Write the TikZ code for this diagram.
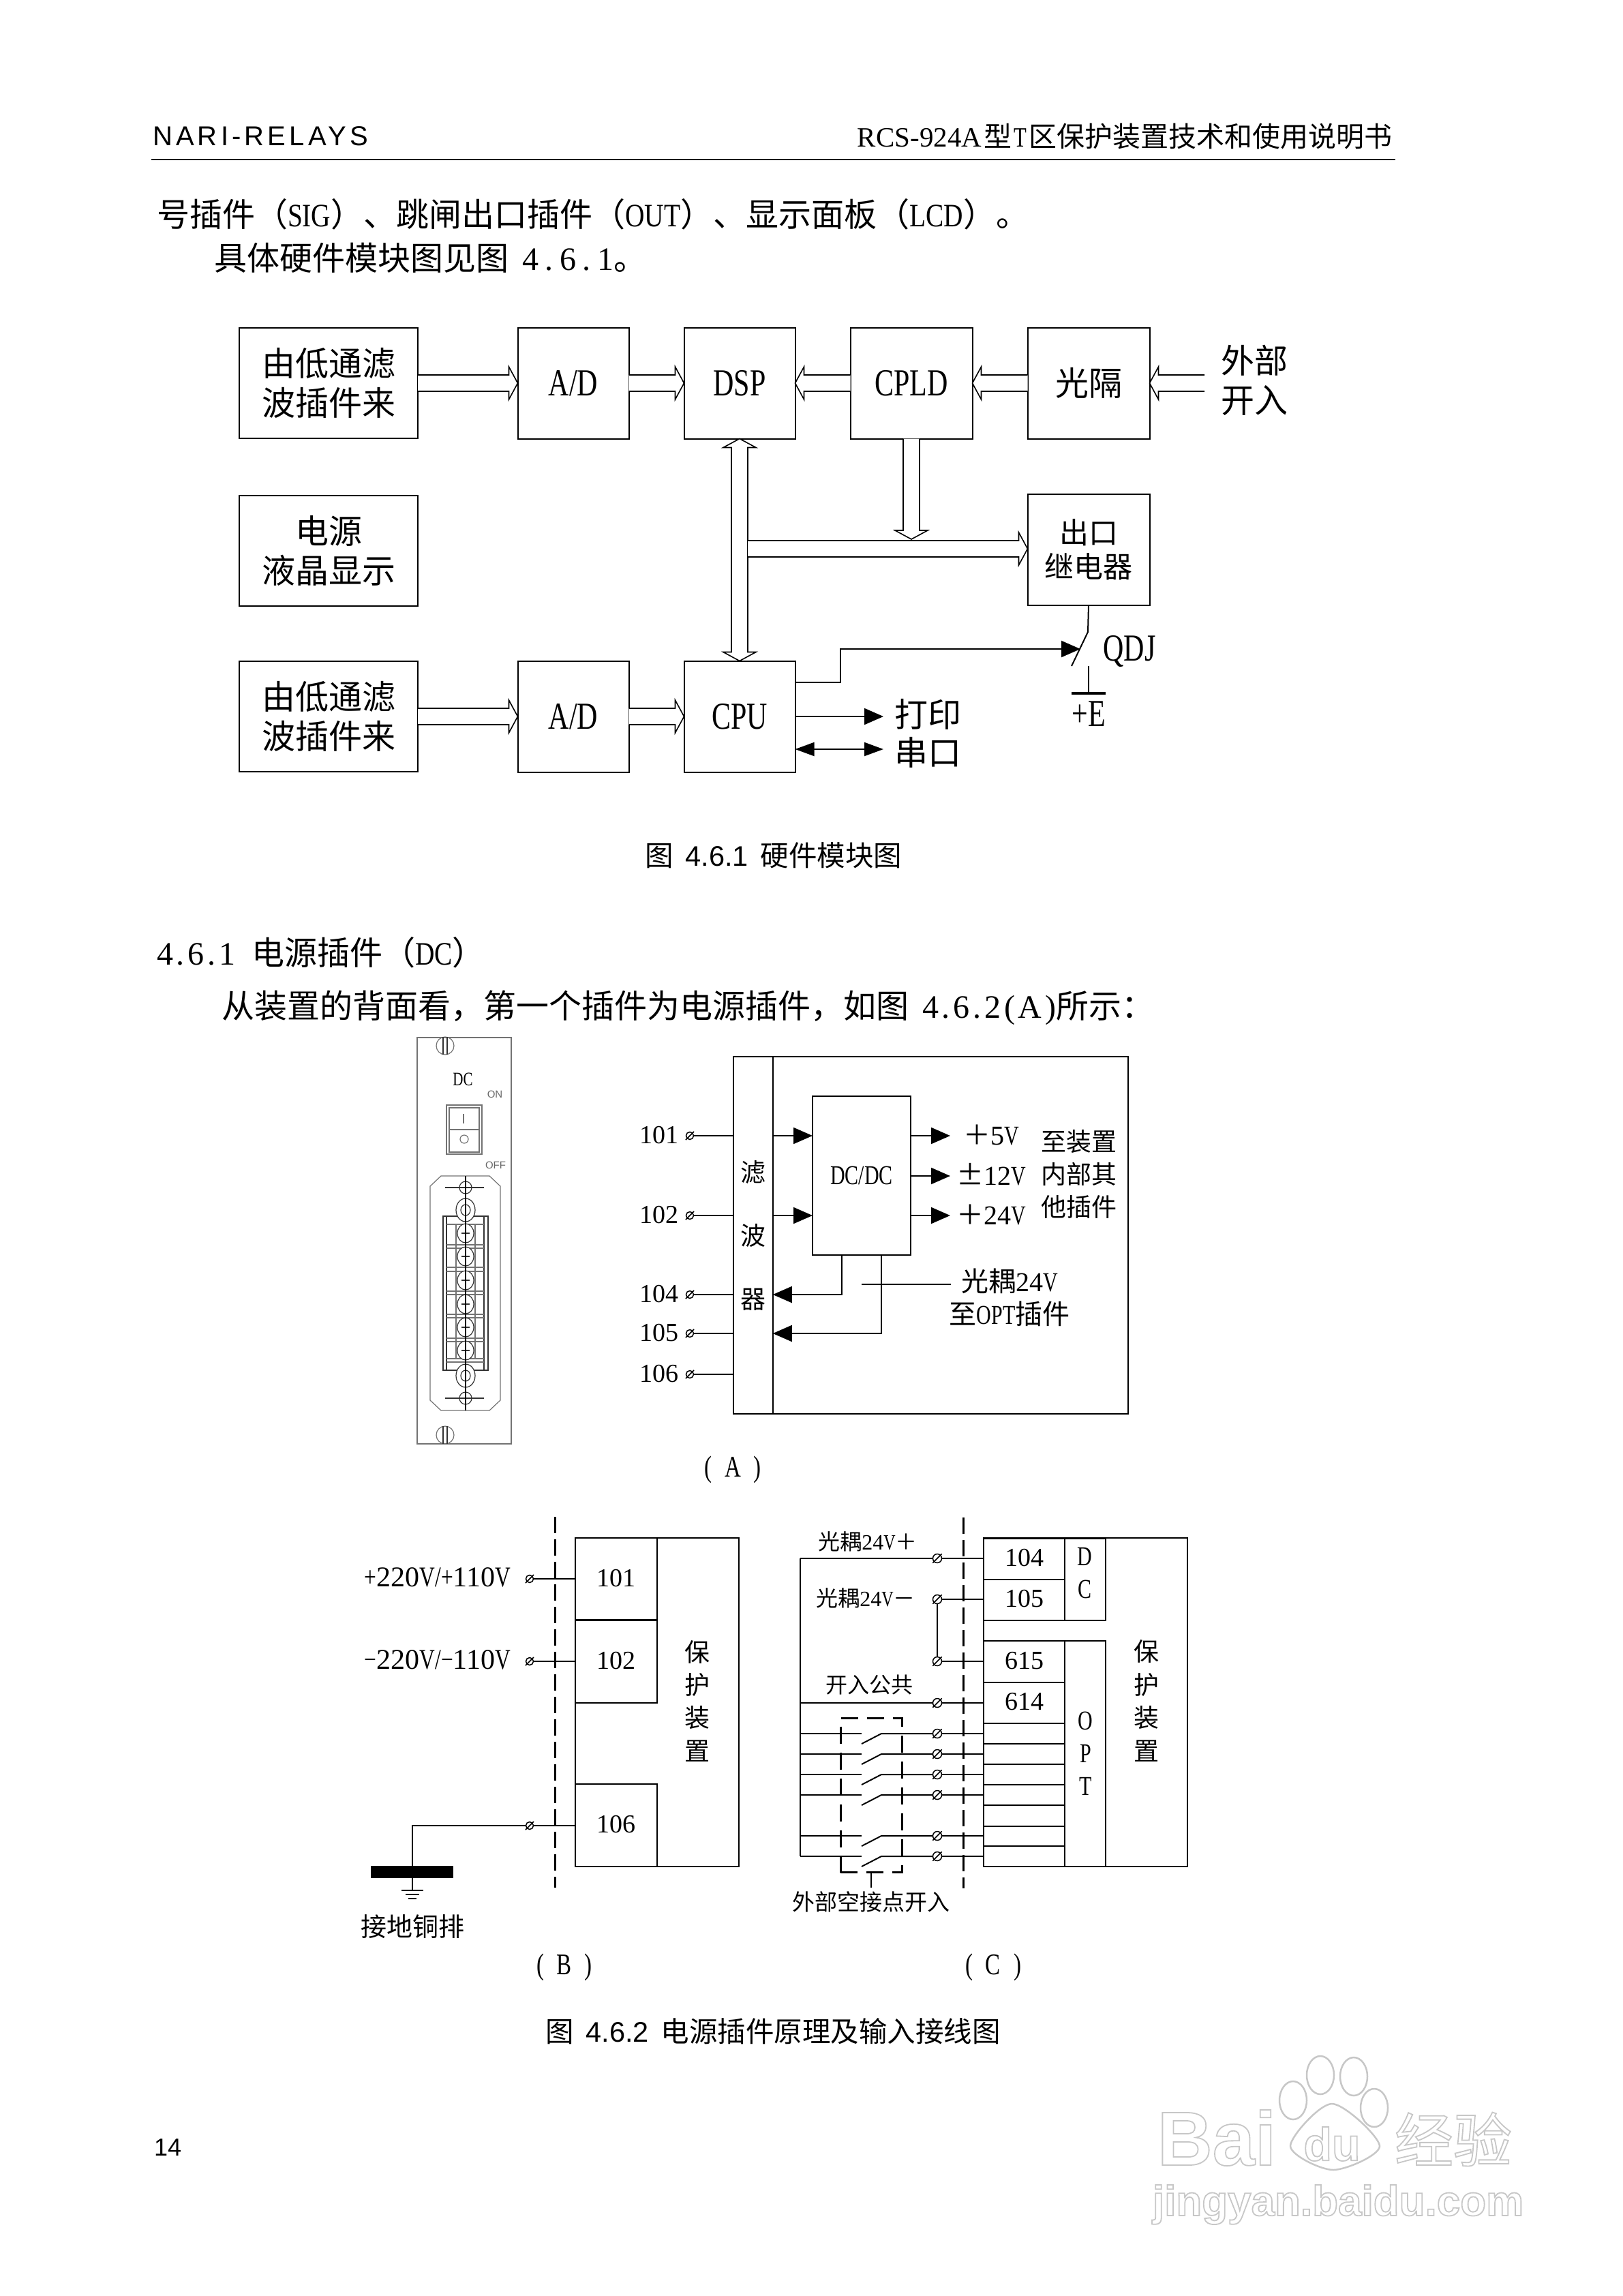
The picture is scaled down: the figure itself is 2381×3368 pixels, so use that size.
\documentclass[tikz,border=0pt]{standalone}
\usepackage{fontspec}
\usetikzlibrary{arrows.meta,calc}
\setmainfont[FakeStretch=0.75]{Liberation Serif}
\setsansfont{Liberation Sans}
\newfontfamily\cjk{Noto Sans CJK SC}
\newfontfamily\headsf[LetterSpace=13]{Liberation Sans}
\newfontfamily\dg{Liberation Serif}
\newfontfamily\bl[FakeStretch=0.82]{Liberation Serif}
\newfontfamily\nma[LetterSpace=20]{Liberation Serif}
\newfontfamily\nmb[LetterSpace=10]{Liberation Serif}
\newcommand{\cj}[1]{{\cjk #1}}
\newcommand{\dn}[1]{{\dg #1}}
\newcommand{\olt}[1]{\special{pdf:code q 0.78 G 1.8 w 1 Tr}#1\special{pdf:code Q}}
\newcommand{\holar}[2]{
  \coordinate (hb) at ($(#2)!13pt!(#1)$);
  \draw[hol] ($(#1)!12pt!90:(#2)$) -- ($(hb)!12pt!-90:(#1)$) -- ($(hb)!24pt!-90:(#1)$) -- (#2) -- ($(hb)!24pt!90:(#1)$) -- ($(hb)!12pt!90:(#1)$) -- ($(#1)!12pt!-90:(#2)$);}
\newcommand{\holbi}[2]{
  \coordinate (hb) at ($(#2)!13pt!(#1)$);
  \coordinate (ha) at ($(#1)!13pt!(#2)$);
  \draw[hol] (#1) -- ($(ha)!24pt!-90:(#2)$) -- ($(ha)!12pt!-90:(#2)$) -- ($(hb)!12pt!90:(#1)$) -- ($(hb)!24pt!90:(#1)$) -- (#2) -- ($(hb)!24pt!-90:(#1)$) -- ($(hb)!12pt!-90:(#1)$) -- ($(ha)!12pt!90:(#2)$) -- ($(ha)!24pt!90:(#2)$) -- cycle;}
\begin{document}
\begin{tikzpicture}[x=1pt,y=-1pt,
  every node/.style={inner sep=0pt,outer sep=0pt},
  every path/.style={line width=2pt},
  ln/.style={font=\fontsize{56}{58}\selectfont,align=center},
  cbig/.style={font=\cjk\fontsize{49}{58}\selectfont,align=center},
  cmid/.style={font=\cjk\fontsize{37}{48}\selectfont,align=center},
  csml/.style={font=\fontsize{32}{40}\selectfont,align=center},
  lmid/.style={font=\fontsize{40}{48}\selectfont,align=center},
  dnum/.style={font=\dg\fontsize{38}{48}\selectfont,text height=26pt,text depth=4pt},
  body/.style={font=\bl\fontsize{48}{56}\selectfont,anchor=west},
  capt/.style={font=\sffamily\fontsize{41.5}{48}\selectfont,anchor=west},
  box/.style={draw,minimum width=#1},
  wbox/.style={box=262pt,minimum height=162pt},
  nbox/.style={box=163pt,minimum height=163pt},
  lbox/.style={box=179pt,minimum height=163pt},
  term/.style={circle,draw,minimum size=13pt,line width=1.5pt},
  hol/.style={draw,line width=1.6pt,fill=white,line join=miter},
  ar/.style={-{Triangle[length=28pt,width=24pt]},line width=2pt},
  bi/.style={{Triangle[length=28pt,width=20pt]}-{Triangle[length=28pt,width=20pt]},line width=2pt},
  cut/.style={line width=3pt,dash pattern=on 24pt off 9pt},
  dsh/.style={draw,line width=3pt,dash pattern=on 25pt off 13pt},
  pan/.style={draw=black!55,line width=1.2pt},
  panb/.style={draw=black!80,line width=1.2pt},
  wm/.style={font=\sffamily\bfseries\fontsize{#1}{#1}\selectfont},
  toe/.style={draw=black!22,line width=2.5pt}]
\useasboundingbox (0,0) rectangle (2381,3368);

\node[anchor=west,font=\headsf\fontsize{40}{48}\selectfont] (hdl) at (224,200) {NARI-RELAYS};
\node[anchor=east,font=\fontsize{41}{48}\selectfont] (hdr) at (2042,200) {\dn{RCS-924A}\kern3pt\cj{型}\kern3pt T\kern3pt\cj{区保护装置技术和使用说明书}};
\draw (222,234) -- (2047,234);
\node[body] (p1) at (230,314) {\cj{号插件（}SIG\cj{）、跳闸出口插件（}OUT\cj{）、显示面板（}LCD\cj{）。}};
\node[body] (p2) at (314,378) {\cj{具体硬件模块图见图}\kern20pt{\nma 4.6.1}\cj{。}};
\node[capt] (cap1) at (946,1255) {\cj{图}\kern18pt 4.6.1\kern18pt\cj{硬件模块图}};
\node[body] (sec) at (230,1397) {{\nmb 4.6.1}\kern24pt\cj{电源插件（}DC\cj{）}};
\node[body] (p3) at (325,1478) {\cj{从装置的背面看，第一个插件为电源插件，如图}\kern20pt{\nmb 4.6.2(A)}\cj{所示：}};
\node[capt] (cap2) at (800,2980) {\cj{图}\kern18pt 4.6.2\kern18pt\cj{电源插件原理及输入接线图}};
\node[anchor=west,font=\sffamily\fontsize{36}{40}\selectfont] (pg) at (226,3150) {14};

\node[wbox,cbig] (b1) at (482,562) {由低通滤\\波插件来};
\node[nbox,ln] (ad1) at (841,562) {A/D};
\node[nbox,ln] (dsp) at (1085,562) {DSP};
\node[lbox,ln] (cpld) at (1337,562) {CPLD};
\node[lbox,cbig] (gg) at (1597,562) {光隔};
\node[cbig] (wb) at (1840,558) {外部\\开入};
\coordinate (wbt) at (1767,562);
\node[wbox,cbig] (b2) at (482,808) {电源\\液晶显示};
\node[box=179pt,minimum height=163pt,align=center,font=\cjk\fontsize{43}{50}\selectfont] (rly) at (1597,806) {出口\\继电器};
\node[wbox,cbig] (b3) at (482,1051) {由低通滤\\波插件来};
\node[nbox,ln] (ad2) at (841,1051) {A/D};
\node[nbox,ln] (cpu) at (1085,1051) {CPU};
\holar{b1.east}{ad1.west}
\holar{ad1.east}{dsp.west}
\holar{cpld.west}{dsp.east}
\holar{gg.west}{cpld.east}
\holar{wbt}{gg.east}
\holar{b3.east}{ad2.west}
\holar{ad2.east}{cpu.west}
\holbi{dsp.south}{cpu.north}
\coordinate (bus) at (1097,805);
\holar{bus}{rly.west |- bus}
\coordinate (cpd) at (1337,791);
\holar{cpld.south}{cpd}
\coordinate (cq) at (1166,1001);
\coordinate (sw) at (1585,952);
\coordinate (swt) at (1596,927);
\coordinate (swb) at (1572,977);
\coordinate (swe) at (1597,977);
\coordinate (ebar) at (1597,1017);
\draw[ar] (cq) -- (1233,1001) |- (sw);
\draw (rly.south) -- (swt) -- (swb);
\draw (swe) -- (ebar);
\draw[line width=4pt] (1572,1017) -- (1622,1017);
\node[font=\fontsize{56}{58}\selectfont] (qdj) at (1657,955) {QDJ};
\node[font=\fontsize{56}{58}\selectfont] (pe) at (1597,1047) {+E};
\node[cbig] (dy) at (1361,1048) {打印};
\node[cbig] (ck) at (1361,1104) {串口};
\coordinate (dyt) at (1296,1051);
\coordinate (ckt) at (1296,1099);
\draw[ar] (cpu.east |- dyt) -- (dyt);
\draw[bi] (cpu.east |- ckt) -- (ckt);

\draw[pan] (612,1522) rectangle (750,2118);
\foreach \y in {1534,2105} {
  \draw[pan] (653,\y) ellipse (13 and 13);
  \draw[panb] (650,\y-13) -- (650,\y+13) (656,\y-13) -- (656,\y+13);
}
\node[font=\fontsize{28}{30}\selectfont] (dct) at (679,1583) {DC};
\node[font=\sffamily\fontsize{15}{16}\selectfont,text=black!60] (on) at (726,1605) {ON};
\node[font=\sffamily\fontsize{15}{16}\selectfont,text=black!60] (off) at (727,1709) {OFF};
\draw[pan] (655,1621) rectangle (707,1693);
\draw[pan] (659,1625) rectangle (703,1690);
\draw[pan] (659,1657) -- (703,1657) (680,1634) -- (680,1648);
\draw[pan] (681,1671) circle (6);
\draw[pan] (647,1725) -- (718,1725) -- (734,1740) -- (734,2054) -- (718,2069) -- (647,2069) -- (631,2054) -- (631,1740) -- cycle;
\draw[panb] (650,1784) rectangle (716,2010);
\draw[panb] (655,1784) -- (655,2010) (710,1784) -- (710,2010);
\draw[pan] (669,1796) -- (669,1993) (697,1796) -- (697,1993);
\foreach \y in {1796,1826,1831,1859,1865,1894,1899,1928,1933,1963,1968,1993,1998} \draw[pan] (655,\y) -- (710,\y);
\foreach \y in {1809,1843,1878,1913,1947,1981} {
  \draw[panb,fill=white] (683,\y) ellipse (12 and 14);
  \draw[panb] (677,\y) -- (689,\y);
}
\foreach \y in {1742,2051} {
  \draw[panb] (683,\y) ellipse (9 and 9);
  \draw[panb] (653,\y) -- (710,\y);
}
\foreach \y in {1775,2018} {
  \draw[panb,fill=white] (683,\y) ellipse (14 and 17);
  \draw[panb] (683,\y) ellipse (7 and 8);
}
\draw[black,line width=1.2pt] (683,1725) -- (683,2069);

\node[box=579pt,minimum height=524pt] (outa) at (1365.5,1812) {};
\node[box=57.5pt,minimum height=524pt,align=center,font=\cjk\fontsize{37}{93}\selectfont] (flt) at (1105,1812) {滤\\波\\器};
\node[box=144pt,minimum height=233pt,lmid] (dcdc) at (1264,1724) {DC/DC};
\foreach \n/\y in {101/1666,102/1783,104/1899,105/1956,106/2016} {
  \node[dnum] (la\n) at (967,\y) {\n};
  \node[term,minimum size=11pt] (ta\n) at (1012,\y) {};
  \draw (ta\n) -- (ta\n -| flt.west);
  \draw[line width=1.5pt,shorten <=-3pt,shorten >=-3pt] (ta\n.south west) -- (ta\n.north east);
}
\draw[ar] (flt.east |- ta101) -- (dcdc.west |- ta101);
\draw[ar] (flt.east |- ta102) -- (dcdc.west |- ta102);
\coordinate (o5) at (1394,1666);
\coordinate (o12) at (1394,1725);
\coordinate (o24) at (1394,1783);
\foreach \c in {o5,o12,o24} \draw[ar] (dcdc.east |- \c) -- (\c);
\node[lmid] (t5) at (1454,1665) {\cj{＋}\dn{5}V};
\node[lmid] (t12) at (1454,1723) {\cj{±}\dn{12}V};
\node[lmid] (t24) at (1454,1782) {\cj{＋}\dn{24}V};
\node[cmid] (tz) at (1583,1722) {至装置\\内部其\\他插件};
\coordinate (d1) at (1235,1899);
\coordinate (d2) at (1293,1956);
\draw[ar] (d1 |- dcdc.south) -- (d1) -- (flt.east |- d1);
\draw[ar] (d2 |- dcdc.south) -- (d2) -- (flt.east |- d2);
\coordinate (gl) at (1264,1884);
\coordinate (gr) at (1395,1884);
\draw (gl) -- (gr);
\node[lmid] (gt) at (1481,1903) {\cj{光耦}\dn{24}V\\\cj{至}OPT\cj{插件}};
\node[font=\fontsize{44}{48}\selectfont] (capa) at (1075,2156) {(\kern19pt A\kern19pt)};

\node[box=240pt,minimum height=482pt] (outb) at (964,2497) {};
\node[box=120pt,minimum height=120pt,dnum] (b101) at (904,2316) {101};
\node[box=120pt,minimum height=121pt,dnum] (b102) at (904,2437) {102};
\node[box=120pt,minimum height=121pt,dnum] (b106) at (904,2677.5) {106};
\node[cmid,font=\cjk\fontsize{37}{48.3}\selectfont] (bh1) at (1023,2495) {保\\护\\装\\置};
\draw[cut] (814,2225) -- (814,2769);
\node[lmid,font=\fontsize{42}{48}\selectfont] (lb1) at (642,2314) {+\dn{220}V/+\dn{110}V};
\node[lmid,font=\fontsize{42}{48}\selectfont] (lb2) at (642,2435) {−\dn{220}V/−\dn{110}V};
\foreach \n/\y in {1/2316,2/2437,3/2678} {
  \node[term,minimum size=11pt] (tb\n) at (777,\y) {};
  \draw[line width=1.5pt,shorten <=-3pt,shorten >=-3pt] (tb\n.south west) -- (tb\n.north east);
}
\draw[line width=1.5pt] (tb1) -- (b101.west |- tb1);
\draw (tb2) -- (b102.west |- tb2);
\draw[line width=1.5pt] (tb3) -- (b106.west |- tb3);
\coordinate (gt1) at (605,2773);
\draw (tb3) -| (gt1);
\draw[fill=black] (545,2738) rectangle (664,2754);
\draw[line width=1.5pt] (589,2773) -- (621,2773) (595,2779) -- (615,2779) (599,2785) -- (611,2785);
\node[font=\cjk\fontsize{38}{48}\selectfont] (jd) at (605,2826) {接地铜排};
\node[font=\fontsize{44}{48}\selectfont] (capb) at (828,2886) {(\kern19pt B\kern19pt)};

\node[box=299pt,minimum height=482pt] (outc) at (1592.5,2497) {};
\node[box=179pt,minimum height=120pt] (dcc) at (1532.7,2316.5) {};
\node[box=60pt,minimum height=120pt] (dcl) at (1592.4,2316.5) {};
\node[align=center,font=\fontsize{40}{48}\selectfont] (dct2) at (1591,2308) {D\\C};
\node[box=119.4pt,minimum height=60pt,dnum] (b104) at (1502.7,2286.5) {104};
\node[box=119.4pt,minimum height=60pt,dnum] (b105) at (1502.7,2346.5) {105};
\node[box=179pt,minimum height=331pt] (optb) at (1532.7,2572.5) {};
\node[box=60pt,minimum height=331pt,font=\fontsize{40}{48}\selectfont,align=center] (optl) at (1592.4,2572.5) {O\\P\\T};
\node[box=119.4pt,minimum height=61pt,dnum] (b615) at (1502.7,2437) {615};
\node[box=119.4pt,minimum height=60pt,dnum] (b614) at (1502.7,2497.5) {614};
\foreach \y in {2558,2588,2618,2648,2679,2708} \draw (1443,\y) -- (1562.4,\y);
\node[font=\cjk\fontsize{37}{48.7}\selectfont,align=center] (ch1) at (1682,2495) {保\\护\\装\\置};
\draw[cut] (1413,2226) -- (1413,2770);
\foreach \n/\y in {a/2286,b/2346,c/2437,d/2498} {
  \node[term] (t\n) at (1375,\y) {};
  \draw[line width=1.5pt,shorten <=-3pt,shorten >=-3pt] (t\n.south west) -- (t\n.north east);
  \draw (t\n) -- (t\n -| outc.west);
}
\draw (tb) -- (tc);
\coordinate (rt) at (1173.5,2286);
\coordinate (rd) at (1173.5,2498);
\draw (rt) -- (ta);
\draw (rd) -- (td);
\foreach \y [count=\i] in {2543,2573,2603,2633,2693,2723} {
  \node[term] (ts\i) at (1375,\y) {};
  \draw[line width=1.5pt,shorten <=-3pt,shorten >=-3pt] (ts\i.south west) -- (ts\i.north east);
  \draw (ts\i) -- (ts\i -| outc.west);
  \draw (1173.5,\y) -- (1264,\y);
  \draw (1264,\y+15) -- (1293,\y) -- (ts\i);
}
\draw (rt) -- (1173.5,2723);
\node[dsh,minimum width=90pt,minimum height=226pt] (dbx) at (1278,2633.5) {};
\coordinate (dbl) at (1278,2769);
\draw (dbx.south) -- (dbl);
\node[font=\cjk\fontsize{33}{40}\selectfont] (wk) at (1278,2790) {外部空接点开入};
\node[csml] (l24p) at (1273,2261) {\cj{光耦}\dn{24}V\cj{＋}};
\node[csml] (l24m) at (1270,2344) {\cj{光耦}\dn{24}V\cj{－}};
\node[font=\cjk\fontsize{32}{40}\selectfont] (lkr) at (1275,2472) {开入公共};
\node[font=\fontsize{44}{48}\selectfont] (capc) at (1457,2886) {(\kern19pt C\kern19pt)};

\node[wm=112] (wb1) at (1785,3136) {\olt{Bai}};
\foreach \x/\y in {1897/3081,1937/3044,1986/3046,2016/3092} \draw[toe] (\x,\y) ellipse (20 and 28);
\draw[toe] plot[smooth cycle] coordinates {(1954,3086) (1893,3148) (1956,3183) (2024,3148)};
\node[wm=68] (wb2) at (1954,3145) {\olt{du}};
\node[font=\cjk\fontsize{86}{86}\selectfont] (wb3) at (2132,3138) {\olt{经验}};
\node[wm=62] (wb4) at (1963,3234) {\olt{jingyan.baidu.com}};
\end{tikzpicture}
\end{document}
